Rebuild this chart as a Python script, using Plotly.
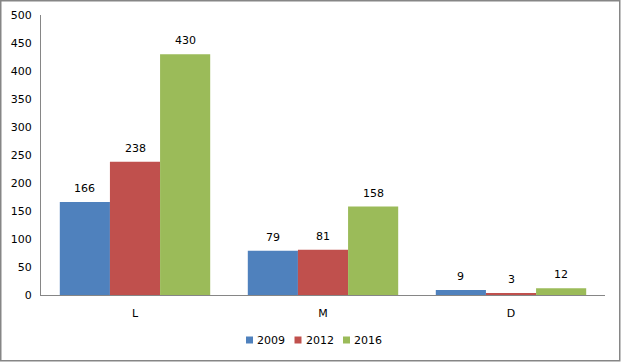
import plotly.graph_objects as go

categories = ["L", "M", "D"]
series_names = ["2009", "2012", "2016"]
values_2009 = [166, 79, 9]
values_2012 = [238, 81, 3]
values_2016 = [430, 158, 12]
colors = ["#4F81BD", "#C0504D", "#9BBB59"]
y_ticks = [0, 50, 100, 150, 200, 250, 300, 350, 400, 450, 500]

W, H = 621, 362
ml, mr, mt, mb = 41, 16, 15, 67
pw, ph = W - ml - mr, H - mt - mb
FONT = "DejaVu Sans"

all_series = [values_2009, values_2012, values_2016]
fig = go.Figure()
for name, vals, col in zip(series_names, all_series, colors):
    fig.add_trace(go.Bar(
        x=categories, y=vals, name=name, showlegend=False,
        marker=dict(color=col, line=dict(width=0)),
    ))

bargap = 0.2
cat_px = pw / len(categories)
bar_px = cat_px * (1 - bargap) / len(series_names)
for i, (vals, name) in enumerate(zip(all_series, series_names)):
    xs = (i - (len(series_names) - 1) / 2) * bar_px
    for c, v in zip(categories, vals):
        fig.add_annotation(x=c, y=v, xref="x", yref="y", text=str(v),
                           showarrow=False, yanchor="bottom", xshift=xs, yshift=5,
                           font=dict(family=FONT, size=11, color="#000000"))

fig.update_layout(
    width=W, height=H, margin=dict(l=ml, r=mr, t=mt, b=mb, autoexpand=False),
    paper_bgcolor="white", plot_bgcolor="white",
    barmode="group", bargap=bargap, bargroupgap=0,
    font=dict(family=FONT, size=11, color="#000000"),
    xaxis=dict(showgrid=False, showline=True, linecolor="#868686", linewidth=1,
               ticks="", tickfont=dict(size=11), ticklabelstandoff=8, automargin=False),
    yaxis=dict(range=[0, 500], tickvals=y_ticks, showgrid=False, showline=True,
               linecolor="#868686", linewidth=1, ticks="", zeroline=False,
               tickfont=dict(size=11), automargin=False, ticklabelstandoff=6),
    showlegend=False,
)

# legend built from series names and colours
leg_y_px = 340
sq = 7
item_px = 48.5
start_x = 246
for i, (name, col) in enumerate(zip(series_names, colors)):
    x0 = start_x + i * item_px
    fig.add_shape(type="rect", xref="paper", yref="paper",
                  x0=(x0 - ml) / pw, x1=(x0 + sq - ml) / pw,
                  y0=(H - mb - (leg_y_px + sq / 2)) / ph, y1=(H - mb - (leg_y_px - sq / 2)) / ph,
                  line=dict(width=0), fillcolor=col)
    fig.add_annotation(xref="paper", yref="paper", x=(x0 + sq + 2 - ml) / pw,
                       y=(H - mb - leg_y_px) / ph, text=name, showarrow=False,
                       xanchor="left", yanchor="middle",
                       font=dict(family=FONT, size=11, color="#000000"))

# outer chart border
fig.add_shape(type="rect", xref="paper", yref="paper",
              x0=(0.75 - ml) / pw, x1=(W - 1.25 - ml) / pw,
              y0=-(mb - 1.25) / ph, y1=(ph + mt - 0.75) / ph,
              line=dict(color="#868686", width=1.5), fillcolor="rgba(0,0,0,0)")

fig.write_html("out.html", config={"displayModeBar": False},
               post_script="document.body.style.margin='0';document.body.style.overflow='hidden';")
